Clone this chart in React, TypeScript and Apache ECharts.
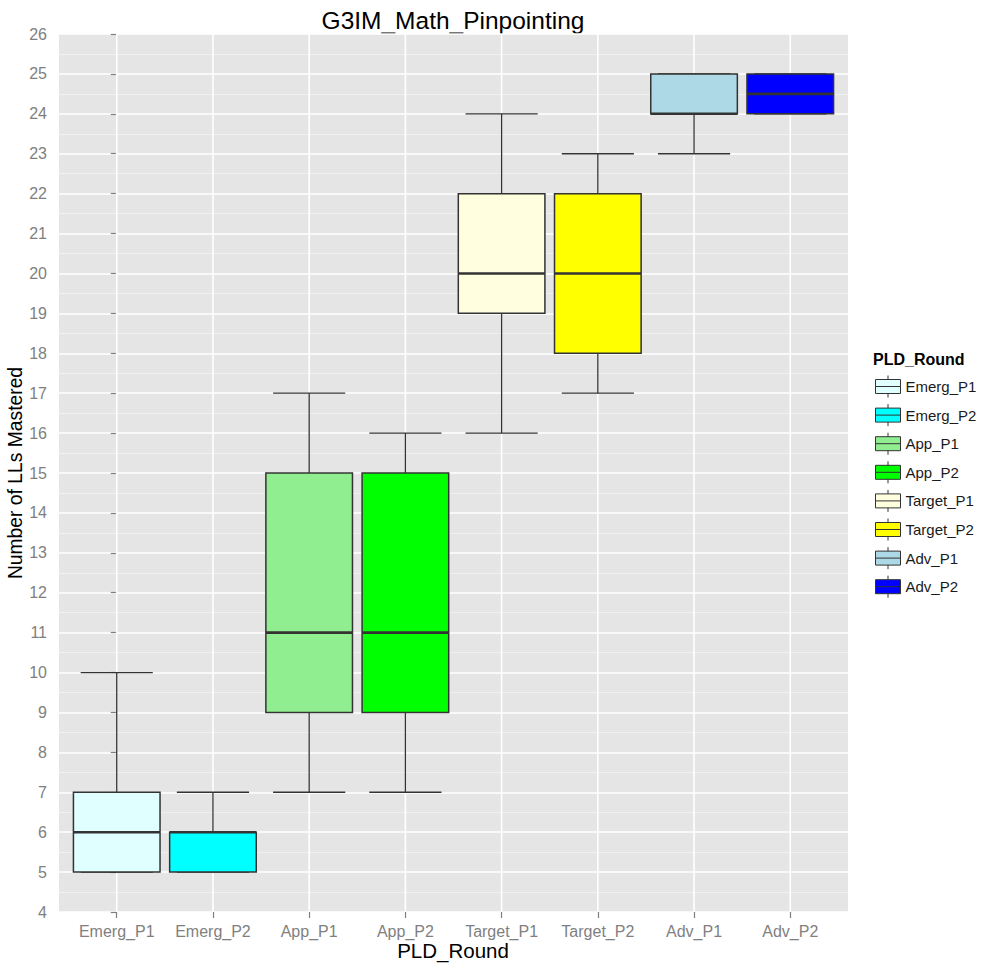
import React, { useEffect, useRef } from "react";
import * as echarts from "echarts";

const categories = ["Emerg_P1", "Emerg_P2", "App_P1", "App_P2", "Target_P1", "Target_P2", "Adv_P1", "Adv_P2"];
const mins = [5, 5, 7, 7, 16, 17, 23, 24];
const q1s = [5, 5, 9, 9, 19, 18, 24, 24];
const medians = [6, 6, 11, 11, 20, 20, 24, 24.5];
const q3s = [7, 6, 15, 15, 22, 22, 25, 25];
const maxs = [10, 7, 17, 16, 24, 23, 25, 25];
const colors = ["#E0FFFF", "#00FFFF", "#90EE90", "#00FF00", "#FFFFE0", "#FFFF00", "#ADD8E6", "#0000FF"];

const FONT = "'Liberation Sans', Arial, sans-serif";
const Y_MIN = 4;
const Y_MAX = 26;

export default function App() {
  const ref = useRef<HTMLDivElement>(null);

  useEffect(() => {
    if (!ref.current) return;
    const chart = echarts.init(ref.current, null, { renderer: "svg" });
    const idx = categories.map((_, i) => i);

    const renderItem = (params: any, api: any) => {
      const x = api.value(0);
      const lo = api.value(1);
      const q1 = api.value(2);
      const med = api.value(3);
      const q3 = api.value(4);
      const hi = api.value(5);
      const halfBox = api.size([0.45, 0])[0];
      const halfCap = api.size([0.375, 0])[0];
      const pLo = api.coord([x, lo]);
      const pQ1 = api.coord([x, q1]);
      const pMed = api.coord([x, med]);
      const pQ3 = api.coord([x, q3]);
      const pHi = api.coord([x, hi]);
      const gTop = api.coord([x, Y_MAX]);
      const gBot = api.coord([x, Y_MIN]);
      const cx = pMed[0];
      const lineStyle = { stroke: "#333333", lineWidth: 1.3 };
      return {
        type: "group",
        children: [
          { type: "line", shape: { x1: cx, y1: gTop[1], x2: cx, y2: gBot[1] }, style: { stroke: "#FFFFFF", lineWidth: 1.6 } },
          { type: "line", shape: { x1: cx, y1: pHi[1], x2: cx, y2: pQ3[1] }, style: lineStyle },
          { type: "line", shape: { x1: cx, y1: pQ1[1], x2: cx, y2: pLo[1] }, style: lineStyle },
          { type: "line", shape: { x1: cx - halfCap, y1: pHi[1], x2: cx + halfCap, y2: pHi[1] }, style: lineStyle },
          { type: "line", shape: { x1: cx - halfCap, y1: pLo[1], x2: cx + halfCap, y2: pLo[1] }, style: lineStyle },
          {
            type: "rect",
            shape: { x: cx - halfBox, y: pQ3[1], width: halfBox * 2, height: pQ1[1] - pQ3[1] },
            style: { fill: api.visual("color"), stroke: "#333333", lineWidth: 1.5 },
          },
          { type: "line", shape: { x1: cx - halfBox, y1: pMed[1], x2: cx + halfBox, y2: pMed[1] }, style: { stroke: "#333333", lineWidth: 2.6 } },
        ],
      };
    };

    const series = categories.map((name, i) => ({
      name,
      type: "custom",
      renderItem,
      itemStyle: { color: colors[i] },
      encode: { x: 0, y: [1, 2, 3, 4, 5] },
      data: [[i, mins[i], q1s[i], medians[i], q3s[i], maxs[i]]],
    }));

    chart.setOption({
      animation: false,
      backgroundColor: "#FFFFFF",
      textStyle: { fontFamily: FONT },
      grid: {
        left: 59,
        right: 137,
        top: 34,
        bottom: 53,
        show: true,
        backgroundColor: "#E5E5E5",
        borderWidth: 0,
      },
      xAxis: {
        type: "value",
        min: -0.6,
        max: 7.6,
        splitLine: { show: false },
        axisLine: { show: false },
        axisTick: { show: true, customValues: idx, length: 6, lineStyle: { color: "#7F7F7F", width: 1.2 } },
        axisLabel: {
          customValues: idx,
          formatter: (v: number) => categories[Math.round(v)] ?? "",
          fontSize: 16,
          color: "#7F7F7F",
          margin: 11,
          fontFamily: FONT,
        },
      },
      yAxis: {
        type: "value",
        min: Y_MIN,
        max: Y_MAX,
        interval: 1,
        axisLine: { show: false },
        axisTick: { show: true, length: 6, lineStyle: { color: "#7F7F7F", width: 1.2 } },
        axisLabel: { fontSize: 16, color: "#7F7F7F", margin: 12, fontFamily: FONT },
        splitLine: { show: true, lineStyle: { color: "#FFFFFF", width: 1.6 } },
        minorTick: { show: false, splitNumber: 2 },
        minorSplitLine: { show: true, lineStyle: { color: "#F2F2F2", width: 0.8 } },
      },
      legend: {
        orient: "vertical",
        left: 875,
        top: 375,
        padding: 0,
        itemWidth: 25,
        itemHeight: 22,
        itemGap: 5.6,
        selectedMode: false,
        icon: "path://M12.5,0L12.5,4M0,4L25,4L25,18L0,18ZM0,11L25,11M12.5,18L12.5,22",
        itemStyle: { borderColor: "#333333", borderWidth: 1 },
        textStyle: { fontSize: 15, color: "#1A1A1A", fontFamily: FONT },
        data: categories,
      },
      graphic: [
        {
          type: "text",
          x: 453,
          y: 20,
          style: { text: "G3IM_Math_Pinpointing", fill: "#000000", font: `24.5px ${FONT}`, align: "center", verticalAlign: "middle" },
        },
        {
          type: "text",
          x: 453,
          y: 950,
          style: { text: "PLD_Round", fill: "#000000", font: `20.5px ${FONT}`, align: "center", verticalAlign: "middle" },
        },
        {
          type: "text",
          x: 15,
          y: 473,
          rotation: Math.PI / 2,
          style: { text: "Number of LLs Mastered", fill: "#000000", font: `19.3px ${FONT}`, align: "center", verticalAlign: "middle" },
        },
        {
          type: "text",
          x: 873,
          y: 359,
          style: { text: "PLD_Round", fill: "#000000", font: `bold 16px ${FONT}`, align: "left", verticalAlign: "middle" },
        },
      ],
      series,
    });

    return () => chart.dispose();
  }, []);

  return <div ref={ref} style={{ position: "fixed", left: 0, top: 0, width: 985, height: 965 }} />;
}
